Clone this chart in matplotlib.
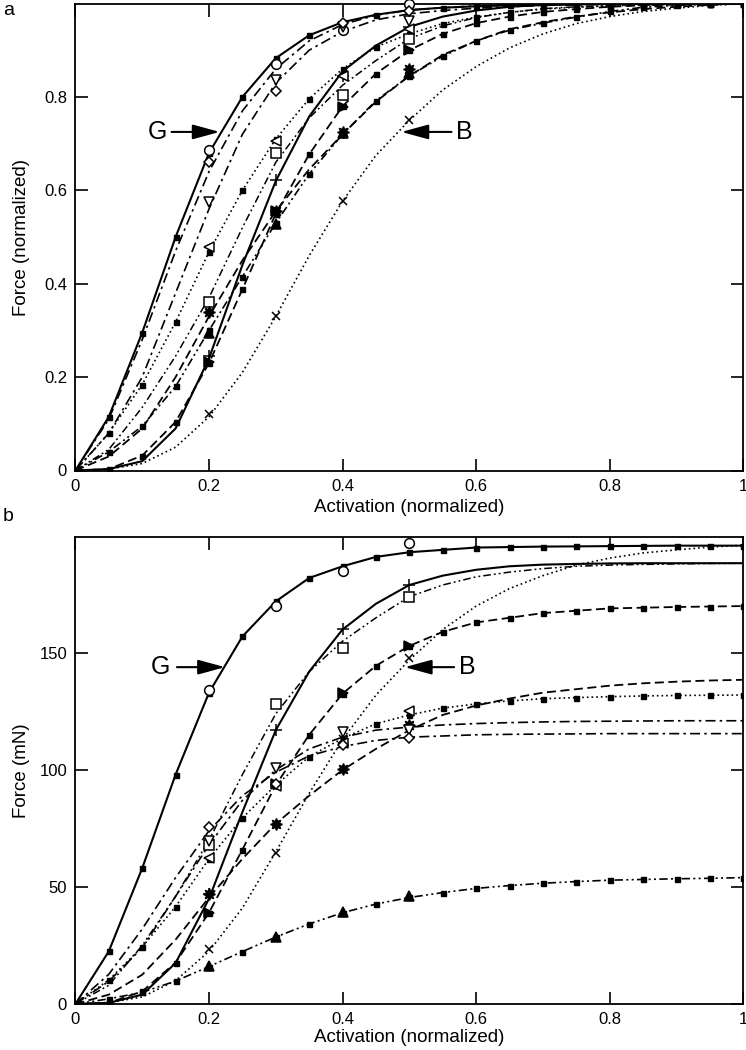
import matplotlib
matplotlib.use('agg')
import matplotlib.pyplot as plt

plt.rcParams['font.family'] = ['Liberation Sans', 'DejaVu Sans']

# activation grid for model curves and the experimental activations
act = [0, 0.05, 0.1, 0.15, 0.2, 0.25, 0.3, 0.35, 0.4, 0.45, 0.5,
       0.55, 0.6, 0.65, 0.7, 0.75, 0.8, 0.85, 0.9, 0.95, 1.0]
act_exp = [0.2, 0.3, 0.4, 0.5]

# ---- panel a: normalized force, model curves ----
a_G = [0, 0.115, 0.295, 0.50, 0.68, 0.80, 0.883, 0.932, 0.96, 0.976, 0.986,
       0.991, 0.994, 0.996, 0.997, 0.998, 0.999, 0.999, 1.0, 1.0, 1.0]
a_plus = [0, 0.003, 0.02, 0.09, 0.24, 0.44, 0.62, 0.758, 0.855, 0.91, 0.95,
          0.972, 0.985, 0.993, 0.997, 0.999, 1.0, 1.0, 1.0, 1.0, 1.0]
a_osq = [0, 0.045, 0.135, 0.245, 0.37, 0.52, 0.66, 0.755, 0.825, 0.878, 0.925,
         0.952, 0.97, 0.981, 0.989, 0.993, 0.995, 0.997, 0.998, 0.999, 1.0]
a_B = [0, 0.003, 0.015, 0.05, 0.115, 0.21, 0.33, 0.46, 0.577, 0.675, 0.75,
       0.815, 0.865, 0.905, 0.935, 0.957, 0.972, 0.983, 0.99, 0.996, 1.0]
a_rtri = [0, 0.003, 0.032, 0.104, 0.23, 0.388, 0.55, 0.677, 0.78, 0.85, 0.9,
          0.935, 0.958, 0.972, 0.982, 0.988, 0.993, 0.996, 0.998, 0.999, 1.0]
a_star = [0, 0.03, 0.09, 0.2, 0.33, 0.45, 0.555, 0.645, 0.72, 0.79, 0.845,
          0.89, 0.92, 0.945, 0.96, 0.972, 0.981, 0.988, 0.993, 0.997, 1.0]
a_ltri = [0, 0.08, 0.184, 0.318, 0.468, 0.6, 0.71, 0.796, 0.86, 0.907, 0.935,
          0.957, 0.971, 0.981, 0.988, 0.992, 0.995, 0.997, 0.998, 0.999, 1.0]
a_dtri = [0, 0.08, 0.2, 0.38, 0.56, 0.72, 0.83, 0.9, 0.94, 0.965, 0.978,
          0.985, 0.99, 0.993, 0.996, 0.997, 0.998, 0.999, 1.0, 1.0, 1.0]
a_dia = [0, 0.11, 0.28, 0.47, 0.64, 0.77, 0.86, 0.92, 0.955, 0.975, 0.986,
         0.991, 0.995, 0.997, 0.998, 0.999, 1.0, 1.0, 1.0, 1.0, 1.0]
a_utri = [0, 0.04, 0.095, 0.18, 0.30, 0.415, 0.53, 0.635, 0.72, 0.792, 0.845,
          0.887, 0.92, 0.943, 0.958, 0.971, 0.983, 0.992, 0.996, 0.998, 1.0]

# panel a: experimental points
ae_G = [0.687, 0.87, 0.944, 1.0]
ae_plus = [0.245, 0.623, 0.845, 0.95]
ae_osq = [0.36, 0.68, 0.805, 0.925]
ae_B = [0.12, 0.33, 0.577, 0.75]
ae_rtri = [0.233, 0.555, 0.778, 0.9]
ae_star = [0.34, 0.555, 0.725, 0.86]
ae_ltri = [0.478, 0.705, 0.845, 0.945]
ae_dtri = [0.576, 0.836, 0.95, 0.962]
ae_dia = [0.66, 0.813, 0.958, 0.985]
ae_utri = [0.295, 0.528, 0.723, 0.852]

# ---- panel b: force in mN, model curves ----
b_G = [0, 22.5, 58, 98, 133, 157, 172, 182, 187, 191, 193,
       194, 195, 195.2, 195.4, 195.5, 195.6, 195.7, 195.8, 195.8, 195.8]
b_plus = [0, 0.5, 4, 17.5, 45, 82, 117, 142, 160, 171, 179,
          183, 185.5, 187, 187.7, 188, 188.2, 188.3, 188.3, 188.3, 188.3]
b_osq = [0, 8, 25, 46, 70, 98, 124, 142, 155, 165, 174,
         179, 182.5, 184.5, 186, 187, 187.5, 187.8, 188, 188.2, 188.3]
b_B = [0, 0.6, 3, 10, 22.5, 41, 65, 90, 113, 132, 147,
       160, 170, 177.5, 183, 187.5, 190.5, 192.7, 194, 195.2, 196]
b_rtri = [0, 0.5, 5.4, 17.7, 39, 66, 93.5, 115, 132.6, 144.5, 153,
          159, 163, 165, 167, 168, 169, 169.3, 169.6, 169.8, 170]
b_star = [0, 4, 12.5, 27.5, 45.5, 62, 77, 89, 100, 109, 117,
          123.5, 127.5, 130.5, 133, 134.5, 136, 137, 137.7, 138.2, 138.5]
b_ltri = [0, 10.3, 24.4, 41.6, 62, 79.5, 93.5, 105.7, 113.5, 119.7, 123.5,
          126.4, 128.2, 129.5, 130.4, 130.9, 131.3, 131.6, 131.8, 131.9, 132]
b_dtri = [0, 9.7, 24, 46, 68, 87, 100, 109, 114, 117, 118.3,
          119.2, 119.8, 120.2, 120.5, 120.7, 120.8, 120.9, 121, 121, 121]
b_dia = [0, 12.7, 32, 54, 74, 89, 99, 106, 110, 112.6, 114,
         114.5, 115, 115.2, 115.3, 115.4, 115.5, 115.5, 115.5, 115.5, 115.5]
b_utri = [0, 2.2, 5, 9.8, 16, 22.4, 28.6, 34.2, 39, 42.7, 45.5,
          47.6, 49.4, 50.6, 51.6, 52.3, 52.9, 53.2, 53.5, 53.7, 54]

# panel b: experimental points
be_G = [134, 170, 185, 197]
be_plus = [47, 117, 160, 179]
be_osq = [68, 128, 152, 174]
be_B = [23.5, 64.5, 113, 148]
be_rtri = [39, 94, 133, 153]
be_star = [47, 77, 100.5, 119]
be_ltri = [62.4, 93, 111.5, 125]
be_dtri = [69.5, 101, 116, 117]
be_dia = [75.7, 94, 110.7, 113.7]
be_utri = [16.2, 28.8, 39.2, 46.3]

dashed = (0, (5, 2.5))
dotted = (0, (1, 1.8))
dashdot = (0, (6, 2.5, 1.5, 2.5))
dashdotdot = (0, (5, 2, 1.2, 2, 1.2, 2))

# linestyle, lw, squares on model, exp marker, marker size, filled
styles = [
    ('-', 1.5, True, 'o', 7, False),
    ('-', 1.5, False, '+', 8, False),
    (dashdotdot, 1.1, False, 's', 6.5, False),
    (dotted, 1.2, False, 'x', 5.5, False),
    (dashed, 1.3, True, '>', 7, True),
    (dashed, 1.3, False, (8, 1, 0), 8.5, True),
    (dotted, 1.2, True, '<', 7, False),
    (dashdot, 1.2, False, 'v', 7, False),
    (dashdot, 1.2, False, 'D', 5.5, False),
    (dashdotdot, 1.2, True, '^', 7, True),
]

a_models = [a_G, a_plus, a_osq, a_B, a_rtri, a_star, a_ltri, a_dtri, a_dia, a_utri]
a_exps = [ae_G, ae_plus, ae_osq, ae_B, ae_rtri, ae_star, ae_ltri, ae_dtri, ae_dia, ae_utri]
b_models = [b_G, b_plus, b_osq, b_B, b_rtri, b_star, b_ltri, b_dtri, b_dia, b_utri]
b_exps = [be_G, be_plus, be_osq, be_B, be_rtri, be_star, be_ltri, be_dtri, be_dia, be_utri]


def draw(ax, models, exps, xlab_y):
    for m, e, st in zip(models, exps, styles):
        ls, lw, sq, mk, ms, filled = st
        ax.plot(act, m, color='k', linestyle=ls, lw=lw,
                marker='s' if sq else None, ms=3.6, mfc='k', mec='k')
        ax.plot(act_exp, e, linestyle='none', marker=mk, ms=ms,
                mfc='k' if filled else 'white', mec='k', mew=1.1, clip_on=False, zorder=5)
    ax.set_xlim(0, 1)
    ax.set_xticks([0, 0.2, 0.4, 0.6, 0.8, 1])
    ax.set_xticklabels(['0', '0.2', '0.4', '0.6', '0.8', '1'])
    ax.tick_params(direction='in', length=9, width=1.2, top=True, right=True,
                   labelsize=12, pad=6)
    for s in ax.spines.values():
        s.set_linewidth(1.3)
    ax.set_xlabel('Activation (normalized)', fontsize=13.5)
    ax.xaxis.set_label_coords(0.5, xlab_y)
    ax.yaxis.set_label_coords(-0.068, 0.5)


def arrow(ax, label, tip, tail, y, lx, fs=18):
    ax.annotate('', xy=(tip, y), xytext=(tail, y),
                arrowprops=dict(arrowstyle='-|>,head_length=1.65,head_width=0.45',
                                lw=1.5, color='k', mutation_scale=10,
                                shrinkA=0, shrinkB=0))
    ax.text(lx, y, label, fontsize=fs, ha='center', va='center')


fig = plt.figure(figsize=(7.46, 10.5), dpi=100)
ax_a = fig.add_axes([75.4 / 746, 579.5 / 1050, 668 / 746, 467 / 1050])
ax_b = fig.add_axes([75.4 / 746, 46 / 1050, 668 / 746, 467 / 1050])

draw(ax_a, a_models, a_exps, -0.061)
ax_a.set_ylim(0, 1)
ax_a.set_yticks([0, 0.2, 0.4, 0.6, 0.8])
ax_a.set_yticklabels(['0', '0.2', '0.4', '0.6', '0.8'])
ax_a.set_ylabel('Force (normalized)', fontsize=13.5)
arrow(ax_a, 'G', 0.216, 0.144, 0.725, 0.123)
arrow(ax_a, 'B', 0.488, 0.563, 0.725, 0.582)

draw(ax_b, b_models, b_exps, -0.054)
ax_b.set_ylim(0, 199.5)
ax_b.set_yticks([0, 50, 100, 150])
ax_b.set_ylabel('Force (mN)', fontsize=13.5)
arrow(ax_b, 'G', 0.224, 0.152, 143.9, 0.128)
arrow(ax_b, 'B', 0.493, 0.567, 143.9, 0.586)

fig.text(0.004, 0.998, 'a', fontsize=14, ha='left', va='top')
fig.text(0.004, 0.516, 'b', fontsize=14, ha='left', va='top')

fig.savefig('out.png', dpi=100)
